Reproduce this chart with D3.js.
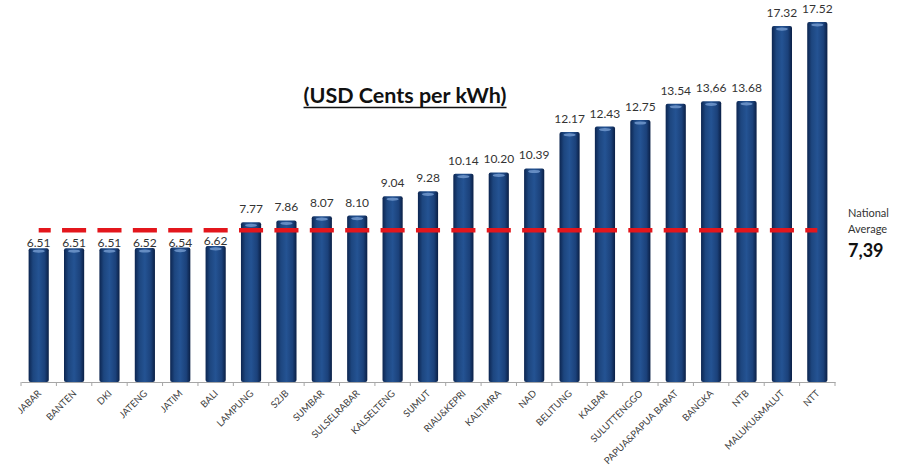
<!DOCTYPE html>
<html>
<head>
<meta charset="utf-8">
<script src="https://cdn.jsdelivr.net/npm/d3@7"></script>
<style>
  body { margin: 0; background: #fff; }
  svg { display: block; font-family: Lato, 'Open Sans', sans-serif; }
</style>
</head>
<body>
<svg id="chart" width="900" height="469"></svg>
<script>
'use strict'

const regions = ['JABAR', 'BANTEN', 'DKI', 'JATENG', 'JATIM', 'BALI', 'LAMPUNG', 'S2JB', 'SUMBAR',
  'SULSELRABAR', 'KALSELTENG', 'SUMUT', 'RIAU&KEPRI', 'KALTIMRA', 'NAD', 'BELITUNG', 'KALBAR',
  'SULUTTENGGO', 'PAPUA&PAPUA BARAT', 'BANGKA', 'NTB', 'MALUKU&MALUT', 'NTT']
const costs = [6.51, 6.51, 6.51, 6.52, 6.54, 6.62, 7.77, 7.86, 8.07, 8.10, 9.04, 9.28, 10.14, 10.20,
  10.39, 12.17, 12.43, 12.75, 13.54, 13.66, 13.68, 17.32, 17.52]
const costLabels = ['6.51', '6.51', '6.51', '6.52', '6.54', '6.62', '7.77', '7.86', '8.07', '8.10',
  '9.04', '9.28', '10.14', '10.20', '10.39', '12.17', '12.43', '12.75', '13.54', '13,66', '13.68',
  '17.32', '17.52']
const nationalAverage = 7.39
const nationalAverageLabel = '7,39'

const svg = d3.select('#chart')
const margin = { left: 21, right: 65, top: 0, bottom: 87 }
const width = 900 - margin.left - margin.right
const height = 469 - margin.top - margin.bottom

const x = d3.scaleBand().domain(regions).range([0, width]).paddingInner(0.43).paddingOuter(0.215)
const y = d3.scaleLinear().domain([0, 18.59]).range([height, 0])

const defs = svg.append('defs')
const grad = defs.append('linearGradient').attr('id', 'barGrad').attr('x1', '0%').attr('x2', '100%')
grad.append('stop').attr('offset', '0%').attr('stop-color', '#0c2550')
grad.append('stop').attr('offset', '22%').attr('stop-color', '#1d467f')
grad.append('stop').attr('offset', '50%').attr('stop-color', '#245393')
grad.append('stop').attr('offset', '80%').attr('stop-color', '#1b417a')
grad.append('stop').attr('offset', '100%').attr('stop-color', '#0a1f45')

const g = svg.append('g').attr('transform', `translate(${margin.left},${margin.top})`)

// bars
const bars = g.selectAll('.bar').data(regions).enter().append('g').attr('class', 'bar')
bars.append('rect')
  .attr('x', d => x(d))
  .attr('y', (d, i) => y(costs[i]))
  .attr('width', x.bandwidth())
  .attr('height', (d, i) => height - y(costs[i]))
  .attr('rx', 2)
  .attr('fill', 'url(#barGrad)')
bars.append('ellipse')
  .attr('cx', d => x(d) + x.bandwidth() / 2)
  .attr('cy', (d, i) => y(costs[i]) + 3)
  .attr('rx', x.bandwidth() * 0.3)
  .attr('ry', 1.6)
  .attr('fill', '#6d93c9')
  .attr('opacity', 0.9)

// axis
const xAxis = g.append('g')
  .attr('transform', `translate(0,${height})`)
  .call(d3.axisBottom(x).tickSize(0).tickFormat(''))
xAxis.select('.domain').attr('stroke', '#a6a6a6').attr('stroke-width', 1.2)
regions.forEach((r, i) => {
  const bx = x.step() * i
  xAxis.append('line').attr('x1', bx).attr('x2', bx).attr('y1', 0).attr('y2', 4)
    .attr('stroke', '#a6a6a6')
})
xAxis.append('line').attr('x1', width).attr('x2', width).attr('y1', 0).attr('y2', 4).attr('stroke', '#a6a6a6')

g.selectAll('.xlabel').data(regions).enter().append('text')
  .attr('class', 'xlabel')
  .attr('transform', d => `translate(${x(d) + x.bandwidth() / 2 + 3},${height + 12}) rotate(-45)`)
  .attr('text-anchor', 'end')
  .attr('font-size', 9.5)
  .attr('fill', '#404040')
  .text(d => d)

// national average line
const avgY = y(nationalAverage)
const x0 = x(regions[0]) + x.bandwidth() / 2
const x1 = x(regions[regions.length - 1]) + x.bandwidth() / 2
const dash = x.step() * 0.68
g.append('line')
  .attr('x1', x0).attr('x2', x1)
  .attr('y1', avgY).attr('y2', avgY)
  .attr('stroke', '#e3161c')
  .attr('stroke-width', 4.5)
  .attr('stroke-dasharray', `${dash},${x.step() - dash}`)
  .attr('stroke-dashoffset', dash / 2)

// value labels
g.selectAll('.val').data(regions).enter().append('text')
  .attr('class', 'val')
  .attr('x', d => x(d) + x.bandwidth() / 2)
  .attr('y', (d, i) => y(costs[i]) - (costs[i] < nationalAverage ? 1 : 9))
  .attr('text-anchor', 'middle')
  .attr('font-size', 12)
  .attr('fill', '#333')
  .text((d, i) => costLabels[i])

// title
const title = svg.append('text')
  .attr('x', 405).attr('y', 103)
  .attr('text-anchor', 'middle')
  .attr('font-size', 21.5)
  .attr('font-weight', 'bold')
  .attr('fill', '#111')
  .text('(USD Cents per kWh)')
const tb = title.node().getBBox()
svg.append('line')
  .attr('x1', tb.x).attr('x2', tb.x + tb.width)
  .attr('y1', 107.5).attr('y2', 107.5)
  .attr('stroke', '#111').attr('stroke-width', 1.6)

// annotation
const note = svg.append('g').attr('transform', 'translate(848,0)')
note.append('text').attr('y', 217).attr('font-size', 11).attr('fill', '#333').text('National')
note.append('text').attr('y', 233).attr('font-size', 11).attr('fill', '#333').text('Average')
note.append('text').attr('y', 257).attr('font-size', 18).attr('font-weight', 'bold').attr('fill', '#111')
  .text(nationalAverageLabel)
</script>
</body>
</html>
